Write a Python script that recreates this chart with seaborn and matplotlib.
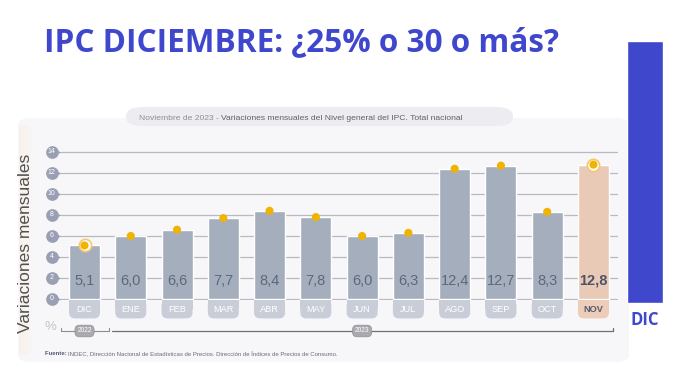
import matplotlib
matplotlib.use("Agg")
import matplotlib.pyplot as plt
from matplotlib.patches import FancyBboxPatch, Rectangle
import seaborn as sns
import pandas as pd
import numpy as np

# ---------------- data ----------------
months = ["DIC", "ENE", "FEB", "MAR", "ABR", "MAY", "JUN", "JUL", "AGO", "SEP", "OCT", "NOV"]
values = [5.1, 6.0, 6.6, 7.7, 8.4, 7.8, 6.0, 6.3, 12.4, 12.7, 8.3, 12.8]
value_labels = ["5,1", "6,0", "6,6", "7,7", "8,4", "7,8", "6,0", "6,3", "12,4", "12,7", "8,3", "12,8"]
yticks = [0, 2, 4, 6, 8, 10, 12, 14]
years = ["2022", "2023"]
side_category = ["DIC"]
side_value = [25]
title = "IPC DICIEMBRE: ¿25% o 30 o más?"
subtitle_a = "Noviembre de 2023 - "
subtitle_b = "Variaciones mensuales del Nivel general del IPC. Total nacional"
source_a = "Fuente: "
source_b = "INDEC, Dirección Nacional de Estadísticas de Precios. Dirección de Índices de Precios de Consumo."
ylabel = "Variaciones mensuales"

# ---------------- style ----------------
sns.set_style("white")
plt.rcParams["font.family"] = ["Liberation Sans", "DejaVu Sans"]

W, H = 676, 369
fig = plt.figure(figsize=(W / 100, H / 100), dpi=100)
fig.patch.set_facecolor("white")


def fx(px):
    return px / W


def fy(py):
    return 1 - py / H


BLUE = "#3f48cc"
BAR = "#a4aebd"
TAB = "#c8cdd8"
HL_BAR = "#e9cab6"
HL_TAB = "#edcdb9"
DOT = "#f0b400"
BADGE = "#9a9fb4"

# panel background
panel = FancyBboxPatch((fx(18), fy(362)), fx(629) - fx(18), fy(118) - fy(362),
                       boxstyle="round,pad=0,rounding_size=0.02", transform=fig.transFigure,
                       fc="#f7f7fa", ec="none", zorder=-5)
fig.patches.append(panel)
for j in range(10):
    fig.patches.append(Rectangle((fx(19 + j * 1.6), fy(355)), fx(1.6), fy(125) - fy(355),
                                 transform=fig.transFigure, fc="#fbead8",
                                 alpha=0.45 * (1 - j / 10), ec="none", zorder=-4))

# subtitle pill
fig.patches.append(FancyBboxPatch((fx(126), fy(126)), fx(513) - fx(126), fy(107) - fy(126),
                                  boxstyle="round,pad=0,rounding_size=0.025", transform=fig.transFigure,
                                  fc="#ececf1", ec="none", zorder=-3))
t_a = fig.text(fx(139), fy(119.5), subtitle_a, fontsize=6.1, color="#8d8d97", va="baseline", ha="left")
fig.add_artist(plt.Annotation(subtitle_b, xy=(1, 0), xycoords=t_a, xytext=(0, 0), textcoords="offset points",
                              fontsize=6.1, color="#5f5f6a", va="bottom", ha="left"))

# title
fig.text(fx(44), fy(51.5), title, fontsize=22.7, fontweight="bold", color=BLUE,
         family=["Open Sans", "DejaVu Sans"], va="baseline", ha="left")

# ---------------- main axes ----------------
k = 147.0 / 14.0           # px per y unit
xs = 46.27                 # px per category
x0px = 84.5                # centre of first bar
ylo, yhi = -0.05, 14.1
left_px, right_px = 60, 618
bot_px = 299 - ylo * k
top_px = 299 - yhi * k
ax = fig.add_axes([fx(left_px), fy(bot_px), fx(right_px) - fx(left_px), (bot_px - top_px) / H])
ax.set_facecolor("none")

df = pd.DataFrame({"mes": months, "valor": values, "pos": np.arange(len(months))})
palette = {m: (HL_BAR if m == "NOV" else BAR) for m in months}
sns.barplot(data=df, x="mes", y="valor", hue="mes", palette=palette, width=0.67,
            legend=False, ax=ax, zorder=3, saturation=1)

ax.set_xlim((left_px - x0px) / xs, (right_px - x0px) / xs)
ax.set_ylim(ylo, yhi)
ax.set_yticks(yticks)
ax.yaxis.grid(True, color="#b9b9c0", lw=0.9, zorder=0)
ax.set_axisbelow(True)
ax.tick_params(left=False, labelleft=False, bottom=False, labelbottom=False)
for s in ax.spines.values():
    s.set_visible(False)

# dots
ring = df[df["mes"].isin(["DIC", "NOV"])]
sns.scatterplot(data=ring, x="pos", y="valor", s=78, color="white", edgecolor="#f6c66c",
                linewidth=1.2, ax=ax, zorder=4, clip_on=False)
sns.scatterplot(data=df, x="pos", y="valor", color=DOT, s=34, edgecolor="none", ax=ax, zorder=5, clip_on=False)
ax.set_xlabel("")
ax.set_ylabel("")

# value labels and tabs
bw = 0.67
asp = xs / k
for i, (m, lab) in enumerate(zip(months, value_labels)):
    hl = m == "NOV"
    ax.text(i, 1.75, lab, ha="center", va="center", fontsize=10.5,
            color="#4f5468" if hl else "#5d687d", fontweight="bold" if hl else "normal", zorder=6)
    tc = HL_TAB if hl else TAB
    ax.add_patch(FancyBboxPatch((i - bw / 2, -1.85), bw, 1.73,
                                boxstyle="round,pad=0,rounding_size=0.13", mutation_aspect=asp,
                                fc=tc, ec="none", clip_on=False, zorder=2))
    ax.add_patch(Rectangle((i - bw / 2, -1.0), bw, 0.88, fc=tc, ec="none", clip_on=False, zorder=2))
    ax.text(i, -0.98, m, ha="center", va="center", fontsize=6.6,
            color="#555a6e" if hl else "white", fontweight="bold" if hl else "normal", zorder=6)

# y tick badges
ytr = ax.get_yaxis_transform()
span = right_px - left_px
bx = (51.5 - left_px) / span
tx = (56.5 - left_px) / span
ax.scatter([bx] * len(yticks), yticks, s=84, color=BADGE, transform=ytr, clip_on=False, zorder=5, lw=0)
ax.scatter([tx] * len(yticks), yticks, s=26, marker=">", color=BADGE, transform=ytr,
           clip_on=False, zorder=5, lw=0)
for v in yticks:
    ax.text(bx, v, str(v), transform=ytr, ha="center", va="center", fontsize=5.0,
            color="white", zorder=6)

# timeline
ty = -(331 - 299) / k
lx = lambda px: (px - x0px) / xs
ax.plot([lx(61), lx(109)], [ty, ty], color="#8c8c94", lw=0.8, clip_on=False, zorder=2)
ax.plot([lx(61), lx(61)], [ty, ty + 0.25], color="#8c8c94", lw=0.8, clip_on=False, zorder=2)
ax.plot([lx(109), lx(109)], [ty, ty + 0.25], color="#8c8c94", lw=0.8, clip_on=False, zorder=2)
ax.plot([lx(112), lx(613)], [ty, ty], color="#6f6f78", lw=0.9, clip_on=False, zorder=2)
ax.plot([lx(613), lx(613)], [ty, ty + 0.25], color="#6f6f78", lw=0.9, clip_on=False, zorder=2)
for yr, c in zip(years, [0.0, 6.0]):
    ax.text(c, ty, yr, ha="center", va="center", fontsize=4.8, color="white", zorder=6,
            bbox=dict(boxstyle="round,pad=0.35,rounding_size=0.7", fc="#a9a9ae", ec="#8f8f96", lw=0.5))
ax.text(lx(50), ty + 0.35, "%", ha="center", va="center", fontsize=9.5, color="#c3c3cb")

# y label
fig.text(fx(26), fy(243), ylabel, rotation=90, fontsize=12.5, color="#505050", ha="center", va="center")

# footer
src = fig.text(fx(45), fy(355), source_a, fontsize=4.3, fontweight="bold", color="#555a6e",
               va="baseline", ha="left")
fig.add_artist(plt.Annotation(source_b, xy=(1, 0), xycoords=src, xytext=(0, 0), textcoords="offset points",
                              fontsize=4.3, color="#6a6a74", va="bottom", ha="left"))

# ---------------- side bar (DIC) ----------------
side_bot = 303
side_top = 303 - 25.1 * k
ax2 = fig.add_axes([fx(627), fy(side_bot), fx(663) - fx(627), (side_bot - side_top) / H])
ax2.set_facecolor("none")
sns.barplot(x=side_category, y=side_value, color=BLUE, width=1.0, saturation=1, ax=ax2)
ax2.set_xlim(-0.5, 0.5)
ax2.set_ylim(0, 25.1)
ax2.axis("off")
fig.text(fx(645), fy(325), side_category[0], fontsize=12, fontweight="bold", color=BLUE,
         family=["Open Sans", "DejaVu Sans"], ha="center", va="baseline")

fig.savefig("out.png", dpi=100, facecolor="white")
